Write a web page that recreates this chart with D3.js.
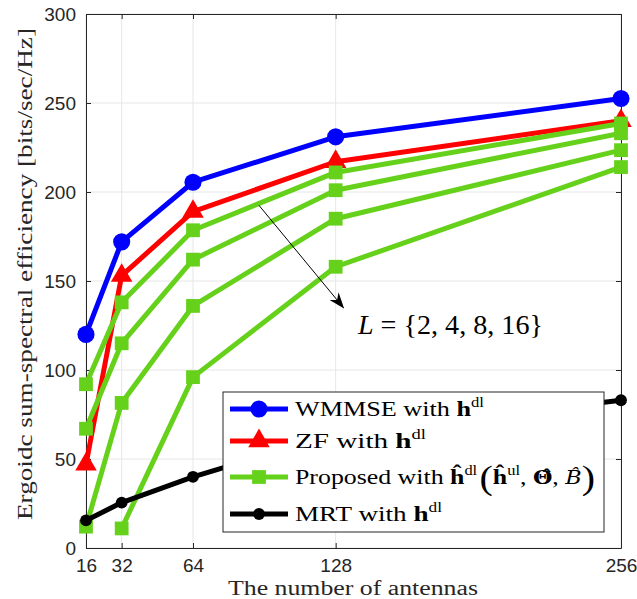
<!DOCTYPE html>
<html>
<head>
<meta charset="UTF-8">
<script src="https://cdn.jsdelivr.net/npm/d3@7"></script>
<style>
    body { margin: 0; background: #fff; }
</style>
</head>
<body>
<div id="ChartContainer"></div>
<script>
    // values
    const antennas = [16, 32, 64, 128, 256]
    const wmmse = [120, 172, 205.5, 231, 252.5]
    const zf = [47, 153, 189, 217, 240]
    const proposed_L16 = [92, 138, 178.5, 211, 238.5]
    const proposed_L8 = [67, 115, 162, 201, 233]
    const proposed_L4 = [12, 81.5, 136, 185, 223.5]
    const proposed_L2 = [null, 11, 96, 158, 214]
    const mrt = [15.5, 25.5, 40, 64, 83]
    const y_ticks = [0, 50, 100, 150, 200, 250, 300]

    // arrow annotation, in data units: [antennas, efficiency]
    const arrow_from = [93.6, 192.5]
    const arrow_to = [131.5, 135]
    const label_at = [138, 120.5]

    const width = 637
    const height = 599
    const margin = { top: 14, right: 16, bottom: 51, left: 86 }
    const green = "#66d11a"
    const serif = "Liberation Serif"
    const sans = "Liberation Sans"

    const x = d3.scaleLinear().domain([16, 256]).range([margin.left, width - margin.right])
    const y = d3.scaleLinear().domain([0, 300]).range([height - margin.bottom, margin.top])

    const svg = d3.select("#ChartContainer")
        .append("svg")
        .attr("width", width)
        .attr("height", height)

    // grid
    svg.append("g").selectAll("line")
        .data(antennas)
        .enter().append("line")
        .attr("x1", d => x(d)).attr("x2", d => x(d))
        .attr("y1", y(0)).attr("y2", y(300))
        .attr("stroke", "#e6e6e6").attr("stroke-width", 1)
    svg.append("g").selectAll("line")
        .data(y_ticks)
        .enter().append("line")
        .attr("x1", x(16)).attr("x2", x(256))
        .attr("y1", d => y(d)).attr("y2", d => y(d))
        .attr("stroke", "#e6e6e6").attr("stroke-width", 1)

    // axes, ticks pointing inward like matlab
    const axis_style = g => {
        g.attr("font-family", sans).attr("font-size", 19)
        g.select(".domain").attr("stroke", "#262626")
        g.selectAll(".tick line").attr("stroke", "#262626")
        g.selectAll(".tick text").attr("fill", "#262626")
    }
    svg.append("g")
        .attr("transform", `translate(0,${y(0)})`)
        .call(d3.axisBottom(x).tickValues(antennas).tickSizeInner(-5).tickSizeOuter(0).tickPadding(11))
        .call(axis_style)
    svg.append("g")
        .attr("transform", `translate(0,${y(300)})`)
        .call(d3.axisTop(x).tickValues(antennas).tickSizeInner(-5).tickSizeOuter(0).tickFormat(""))
        .call(axis_style)
    svg.append("g")
        .attr("transform", `translate(${x(16)},0)`)
        .call(d3.axisLeft(y).tickValues(y_ticks).tickSizeInner(-5).tickSizeOuter(0).tickPadding(10))
        .call(axis_style)
    svg.append("g")
        .attr("transform", `translate(${x(256)},0)`)
        .call(d3.axisRight(y).tickValues(y_ticks).tickSizeInner(-5).tickSizeOuter(0).tickFormat(""))
        .call(axis_style)

    // curves
    const series = [
        { values: wmmse, color: "#0000ff", symbol: d3.symbolCircle, size: 230 },
        { values: zf, color: "#ff0000", symbol: d3.symbolTriangle, size: 200 },
        { values: proposed_L16, color: green, symbol: d3.symbolSquare, size: 190 },
        { values: proposed_L8, color: green, symbol: d3.symbolSquare, size: 190 },
        { values: proposed_L4, color: green, symbol: d3.symbolSquare, size: 190 },
        { values: proposed_L2, color: green, symbol: d3.symbolSquare, size: 190 },
        { values: mrt, color: "#000000", symbol: d3.symbolCircle, size: 110 }
    ]

    const line = d3.line()
        .defined(d => d[1] !== null)
        .x(d => x(d[0]))
        .y(d => y(d[1]))

    series.forEach(s => {
        const pts = antennas.map((a, i) => [a, s.values[i]])
        svg.append("path")
            .attr("d", line(pts))
            .attr("fill", "none")
            .attr("stroke", s.color)
            .attr("stroke-width", 5)
            .attr("stroke-linejoin", "round")
        svg.append("g").selectAll("path")
            .data(pts.filter(p => p[1] !== null))
            .enter().append("path")
            .attr("d", d3.symbol().type(s.symbol).size(s.size))
            .attr("transform", p => `translate(${x(p[0])},${y(p[1])})`)
            .attr("fill", s.color)
    })

    // arrow + L label
    svg.append("defs").append("marker")
        .attr("id", "head")
        .attr("viewBox", "0 0 16 12")
        .attr("refX", 15).attr("refY", 6)
        .attr("markerWidth", 16).attr("markerHeight", 12)
        .attr("markerUnits", "userSpaceOnUse")
        .attr("orient", "auto")
        .append("path")
        .attr("d", "M0,0 L16,6 L0,12 L5,6 Z")
        .attr("fill", "#000")
    svg.append("line")
        .attr("x1", x(arrow_from[0])).attr("y1", y(arrow_from[1]))
        .attr("x2", x(arrow_to[0])).attr("y2", y(arrow_to[1]))
        .attr("stroke", "#000").attr("stroke-width", 1)
        .attr("marker-end", "url(#head)")
    svg.append("text")
        .attr("font-family", serif)
        .attr("x", x(label_at[0])).attr("y", y(label_at[1]))
        .attr("font-size", 27)
        .attr("textLength", 185)
        .attr("lengthAdjust", "spacingAndGlyphs")
        .html('<tspan font-style="italic">L</tspan> = {2, 4, 8, 16}')

    // legend
    const legend = svg.append("g").attr("transform", "translate(223,392)")
    legend.append("rect")
        .attr("width", 381).attr("height", 140)
        .attr("fill", "#fff").attr("stroke", "#262626").attr("stroke-width", 1)

    const sup = t => `<tspan font-size="14" dy="-9">${t}</tspan>`
    const legend_rows = [
        { y: 17, len: 189, label: `WMMSE with <tspan font-weight="bold">h</tspan>${sup("dl")}` },
        { y: 49, len: 131, label: `ZF with <tspan font-weight="bold">h</tspan>${sup("dl")}` },
        { y: 85, len: 300, label: `Proposed with <tspan font-weight="bold">ĥ</tspan>${sup("dl")}<tspan font-size="34" dy="14" dx="2">(</tspan><tspan font-weight="bold" dy="-5">ĥ</tspan>${sup("ul")}<tspan dy="9">, </tspan><tspan font-family="DejaVu Serif" font-weight="bold" font-size="19">Θ&#770;</tspan>, <tspan font-family="DejaVu Serif" font-style="italic" font-size="19">B&#770;</tspan><tspan font-size="34" dy="5">)</tspan>` },
        { y: 122, len: 147, label: `MRT with <tspan font-weight="bold">h</tspan>${sup("dl")}` }
    ]
    legend_rows.forEach((r, i) => {
        const s = series[i === 3 ? 6 : i]
        legend.append("line")
            .attr("x1", 7).attr("x2", 65)
            .attr("y1", r.y).attr("y2", r.y)
            .attr("stroke", s.color).attr("stroke-width", 5)
        legend.append("path")
            .attr("d", d3.symbol().type(s.symbol).size(s.size))
            .attr("transform", `translate(36,${r.y})`)
            .attr("fill", s.color)
        legend.append("text")
            .attr("font-family", serif)
            .attr("x", 72).attr("y", r.y + 7)
            .attr("font-size", 22)
            .attr("textLength", r.len)
            .attr("lengthAdjust", "spacingAndGlyphs")
            .html(r.label)
    })

    // axis titles
    svg.append("text")
        .attr("font-family", serif)
        .attr("x", 228)
        .attr("y", 595)
        .attr("font-size", 20)
        .attr("fill", "#262626")
        .attr("textLength", 250)
        .attr("lengthAdjust", "spacingAndGlyphs")
        .text("The number of antennas")
    svg.append("text")
        .attr("font-family", serif)
        .attr("transform", `translate(32,520) rotate(-90)`)
        .attr("font-size", 22)
        .attr("fill", "#262626")
        .attr("textLength", 492)
        .attr("lengthAdjust", "spacingAndGlyphs")
        .text("Ergoidc sum-spectral efficiency [bits/sec/Hz]")
</script>
</body>
</html>
